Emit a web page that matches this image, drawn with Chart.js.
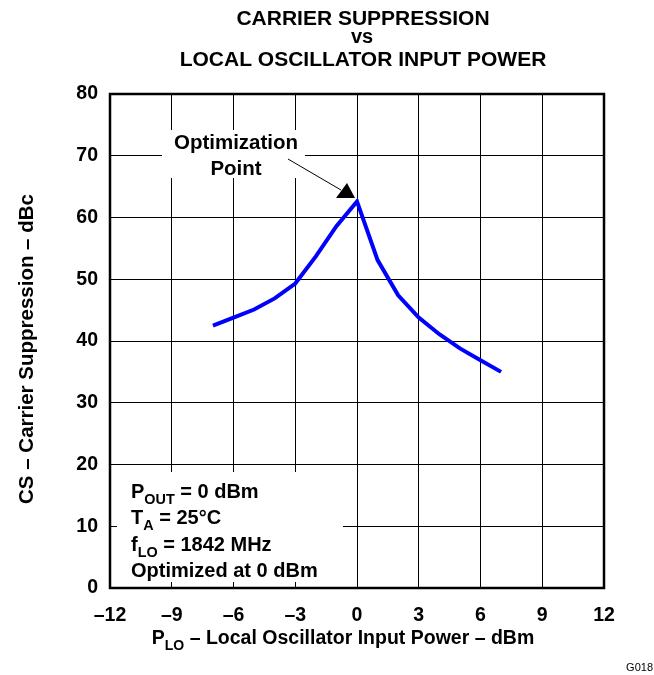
<!DOCTYPE html>
<html>
<head>
<meta charset="utf-8">
<script src="https://cdn.jsdelivr.net/npm/chart.js@4.4.1/dist/chart.umd.min.js"></script>
<style>
  body { margin: 0; background: #fff; }
  canvas { display: block; }
</style>
</head>
<body>
<canvas id="chart" width="654" height="675"></canvas>
<script>
// values
let loPower = [-7, -6, -5, -4, -3, -2, -1, 0, 1, 2, 3, 4, 5, 6, 7];
let carrierSupp = [42.5, 43.8, 45.1, 46.9, 49.3, 53.7, 58.6, 62.6, 53.1, 47.4, 43.8, 41.1, 38.8, 36.9, 35.0];

let xTickLabels = ["–12", "–9", "–6", "–3", "0", "3", "6", "9", "12"];
let yTickLabels = ["0", "10", "20", "30", "40", "50", "60", "70", "80"];

let FONT = "'Liberation Sans', Arial, Helvetica, sans-serif";

function font(size, bold) {
  return (bold ? "bold " : "") + size + "px " + FONT;
}

// draw text made of pieces, some of them subscript
function drawParts(ctx, parts, x, y, size) {
  parts.forEach(p => {
    let s = p.sub ? size * 0.72 : size;
    ctx.font = font(s, true);
    ctx.fillText(p.t, x, p.sub ? y + 6 : y);
    x += ctx.measureText(p.t).width;
  });
}
function partsWidth(ctx, parts, size) {
  let w = 0;
  parts.forEach(p => {
    ctx.font = font(p.sub ? size * 0.72 : size, true);
    w += ctx.measureText(p.t).width;
  });
  return w;
}

let extras = {
  id: "extras",
  beforeDatasetsDraw(chart) {
    let ctx = chart.ctx;
    ctx.save();
    ctx.fillStyle = "#fff";
    // behind the note text and the legend text
    ctx.fillRect(162, 130, 143, 48);
    ctx.fillRect(117, 472, 226, 110);
    ctx.restore();
  },
  afterDraw(chart) {
    let ctx = chart.ctx;
    let a = chart.chartArea;
    ctx.save();

    // frame
    ctx.strokeStyle = "#000";
    ctx.lineWidth = 2.5;
    ctx.strokeRect(a.left, a.top, a.right - a.left, a.bottom - a.top);

    ctx.fillStyle = "#000";
    ctx.textBaseline = "alphabetic";

    // title
    ctx.textAlign = "center";
    ctx.font = font(21, true);
    ctx.fillText("CARRIER SUPPRESSION", 363, 25);
    ctx.font = font(20, true);
    ctx.fillText("vs", 362, 43);
    ctx.font = font(21, true);
    ctx.fillText("LOCAL OSCILLATOR INPUT POWER", 363, 66);

    // note
    ctx.font = font(20.5, true);
    ctx.fillText("Optimization", 236, 149);
    ctx.fillText("Point", 236, 175);

    // arrow
    ctx.lineWidth = 1;
    ctx.beginPath();
    ctx.moveTo(288, 159);
    ctx.lineTo(341, 190);
    ctx.stroke();
    ctx.beginPath();
    ctx.moveTo(347, 183);
    ctx.lineTo(336, 198);
    ctx.lineTo(355, 198);
    ctx.closePath();
    ctx.fill();

    // conditions
    ctx.textAlign = "left";
    drawParts(ctx, [{ t: "P" }, { t: "OUT", sub: true }, { t: " = 0 dBm" }], 131, 498, 20);
    drawParts(ctx, [{ t: "T" }, { t: "A", sub: true }, { t: " = 25°C" }], 131, 524, 20);
    drawParts(ctx, [{ t: "f" }, { t: "LO", sub: true }, { t: " = 1842 MHz" }], 131, 551, 20);
    drawParts(ctx, [{ t: "Optimized at 0 dBm" }], 131, 577, 20);

    // x axis title
    let xt = [{ t: "P" }, { t: "LO", sub: true }, { t: " – Local Oscillator Input Power – dBm" }];
    let w = partsWidth(ctx, xt, 19.5);
    drawParts(ctx, xt, 343 - w / 2, 644, 19.5);

    // y axis title
    ctx.save();
    ctx.translate(33, 349);
    ctx.rotate(-Math.PI / 2);
    ctx.textAlign = "center";
    ctx.font = font(20.5, true);
    ctx.fillText("CS – Carrier Suppression – dBc", 0, 0);
    ctx.restore();

    // figure id
    ctx.textAlign = "right";
    ctx.font = font(11, false);
    ctx.fillText("G018", 653, 671);

    ctx.restore();
  }
};

new Chart(document.getElementById("chart"), {
  type: "line",
  data: {
    datasets: [
      {
        data: loPower.map((x, i) => ({ x: x, y: carrierSupp[i] })),
        borderColor: "#0000ff",
        borderWidth: 4,
        pointRadius: 0,
        tension: 0,
        fill: false
      }
    ]
  },
  options: {
    responsive: false,
    animation: false,
    devicePixelRatio: 1,
    layout: { padding: { top: 94, right: 50, left: 0, bottom: 0 } },
    plugins: { legend: { display: false }, tooltip: { enabled: false }, title: { display: false } },
    scales: {
      x: {
        type: "linear",
        min: -12,
        max: 12,
        afterFit: s => { s.height = 87; },
        ticks: {
          stepSize: 3,
          padding: 16,
          color: "#000",
          font: { family: FONT, size: 19.5, weight: "bold" },
          callback: (v) => xTickLabels[(v + 12) / 3]
        },
        grid: { color: "#000", lineWidth: 1, drawTicks: false },
        border: { display: false }
      },
      y: {
        min: 0,
        max: 80,
        afterFit: s => { s.width = 110; },
        ticks: {
          stepSize: 10,
          padding: 12,
          color: "#000",
          font: { family: FONT, size: 19.5, weight: "bold" },
          callback: (v) => yTickLabels[v / 10]
        },
        grid: { color: "#000", lineWidth: 1, drawTicks: false },
        border: { display: false }
      }
    }
  },
  plugins: [extras]
});
</script>
</body>
</html>
